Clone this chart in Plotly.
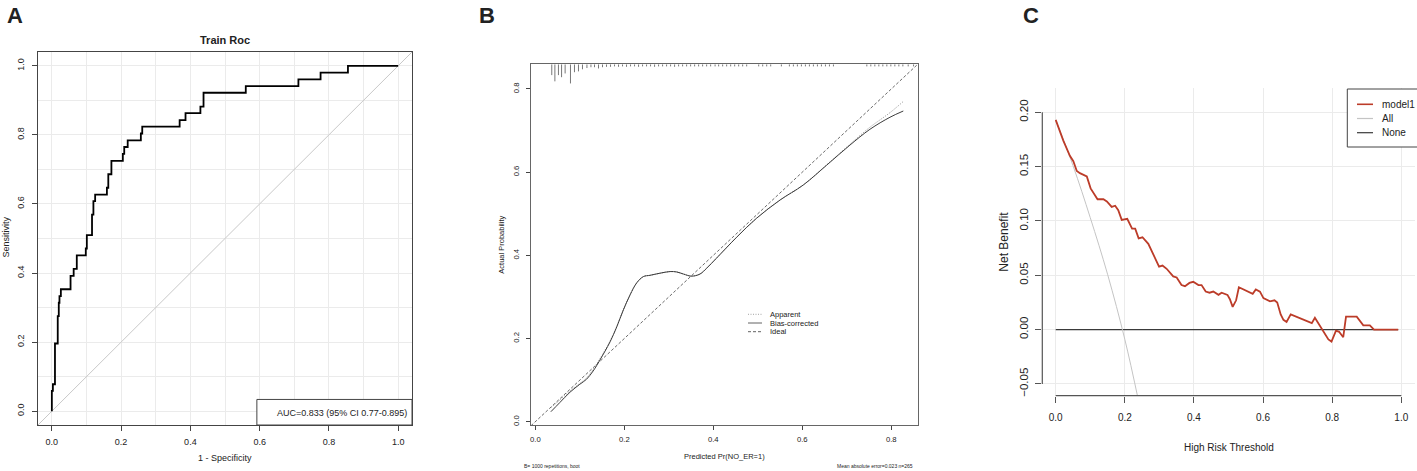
import plotly.graph_objects as go

W, H = 1417, 471
HELV = "Liberation Sans, Arial, Helvetica, sans-serif"
INK = "#222222"
AXC = "#444444"

# ---------------- A: training ROC ----------------
roc_fpr = [0.000, 0.000, 0.003, 0.009, 0.017, 0.020, 0.022, 0.026, 0.054, 0.063,
           0.072, 0.098, 0.101, 0.116, 0.120, 0.125, 0.159, 0.163, 0.172, 0.205,
           0.209, 0.219, 0.257, 0.261, 0.369, 0.386, 0.429, 0.438, 0.560, 0.712,
           0.776, 0.855, 1.000]
roc_tpr = [0.000, 0.059, 0.078, 0.196, 0.275, 0.314, 0.333, 0.353, 0.392, 0.412,
           0.451, 0.471, 0.510, 0.569, 0.608, 0.627, 0.647, 0.686, 0.725, 0.745,
           0.765, 0.784, 0.804, 0.824, 0.843, 0.863, 0.882, 0.922, 0.941, 0.961,
           0.980, 1.000, 1.000]
roc_ticks = [0.0, 0.2, 0.4, 0.6, 0.8, 1.0]
roc_range = [-0.04, 1.04]
auc_label = "AUC=0.833 (95% CI 0.77-0.895)"

# ---------------- B: calibration curve ----------------
cal_pred = [0.035, 0.055, 0.078, 0.100, 0.115, 0.130, 0.145, 0.168, 0.183, 0.198,
            0.213, 0.228, 0.243, 0.258, 0.280, 0.303, 0.318, 0.333, 0.351, 0.370,
            0.385, 0.407, 0.452, 0.497, 0.550, 0.602, 0.655, 0.707, 0.752, 0.797,
            0.827]
cal_apparent = [0.034, 0.052, 0.074, 0.092, 0.105, 0.126, 0.151, 0.194, 0.229, 0.270,
                0.305, 0.334, 0.349, 0.352, 0.357, 0.361, 0.360, 0.355, 0.350, 0.355,
                0.369, 0.393, 0.443, 0.489, 0.533, 0.569, 0.618, 0.667, 0.708, 0.743,
                0.770]
cal_bias = [0.024, 0.046, 0.071, 0.090, 0.102, 0.122, 0.148, 0.192, 0.228, 0.269,
            0.305, 0.334, 0.349, 0.352, 0.357, 0.361, 0.360, 0.355, 0.350, 0.355,
            0.369, 0.393, 0.443, 0.489, 0.533, 0.569, 0.617, 0.665, 0.703, 0.732,
            0.747]
rug_x = [0.037, 0.044, 0.052, 0.059, 0.067, 0.079, 0.088, 0.097, 0.106, 0.116,
         0.125, 0.133, 0.142, 0.151, 0.160, 0.169, 0.178, 0.187, 0.196, 0.205,
         0.214, 0.223, 0.232, 0.241, 0.250, 0.259, 0.268, 0.277, 0.286, 0.295,
         0.304, 0.313, 0.322, 0.331, 0.340, 0.349, 0.358, 0.367, 0.376, 0.385,
         0.394, 0.404, 0.412, 0.421, 0.430, 0.439, 0.448, 0.457, 0.466, 0.475,
         0.502, 0.511, 0.520, 0.529, 0.553, 0.571, 0.580, 0.589, 0.598, 0.607,
         0.616, 0.625, 0.634, 0.643, 0.652, 0.661, 0.670, 0.745, 0.754, 0.763,
         0.772, 0.781, 0.790, 0.799, 0.808, 0.817, 0.826, 0.838, 0.850]
rug_len = [0.026, 0.041, 0.026, 0.031, 0.022, 0.046, 0.019, 0.017, 0.012, 0.009,
           0.007, 0.007, 0.010, 0.007, 0.006, 0.006, 0.005, 0.006, 0.005, 0.006,
           0.005, 0.005, 0.006, 0.005, 0.005, 0.005, 0.006, 0.005, 0.005, 0.005,
           0.005, 0.006, 0.005, 0.005, 0.005, 0.005, 0.005, 0.005, 0.005, 0.005,
           0.005, 0.005, 0.005, 0.005, 0.005, 0.005, 0.005, 0.005, 0.005, 0.005,
           0.005, 0.005, 0.005, 0.005, 0.005, 0.005, 0.005, 0.005, 0.005, 0.005,
           0.005, 0.005, 0.005, 0.005, 0.005, 0.005, 0.005, 0.005, 0.005, 0.005,
           0.005, 0.005, 0.005, 0.005, 0.005, 0.005, 0.005, 0.005, 0.005]
cal_ticks = [0.0, 0.2, 0.4, 0.6, 0.8]
cal_xrange = [-0.0097, 0.8607]
cal_yrange = [-0.0079, 0.8593]
cal_legend = ["Apparent", "Bias-corrected", "Ideal"]
cal_note_left = "B= 1000 repetitions, boot"
cal_note_right = "Mean absolute error=0.023 n=265"

# ---------------- C: decision curve ----------------
dca_thr = [0.000, 0.022, 0.041, 0.051, 0.061, 0.070, 0.090, 0.101, 0.121, 0.138,
           0.148, 0.162, 0.172, 0.181, 0.191, 0.207, 0.221, 0.230, 0.240, 0.251,
           0.268, 0.287, 0.299, 0.309, 0.321, 0.340, 0.350, 0.364, 0.374, 0.387,
           0.398, 0.413, 0.422, 0.434, 0.445, 0.456, 0.471, 0.480, 0.497, 0.504,
           0.512, 0.522, 0.530, 0.570, 0.579, 0.591, 0.601, 0.620, 0.633, 0.641,
           0.651, 0.659, 0.668, 0.680, 0.741, 0.750, 0.765, 0.789, 0.798, 0.811,
           0.820, 0.832, 0.840, 0.871, 0.890, 0.909, 0.921, 0.991]
dca_model1 = [0.193, 0.174, 0.160, 0.155, 0.146, 0.144, 0.141, 0.130, 0.120, 0.120,
              0.118, 0.113, 0.114, 0.110, 0.101, 0.102, 0.093, 0.093, 0.084, 0.085,
              0.079, 0.067, 0.058, 0.059, 0.056, 0.049, 0.048, 0.041, 0.040, 0.043,
              0.044, 0.041, 0.041, 0.035, 0.034, 0.035, 0.032, 0.034, 0.032, 0.028,
              0.021, 0.027, 0.039, 0.033, 0.037, 0.035, 0.029, 0.026, 0.027, 0.025,
              0.014, 0.009, 0.007, 0.014, 0.006, 0.011, 0.003, -0.009, -0.011, -0.001,
              -0.002, -0.007, 0.012, 0.012, 0.004, 0.004, 0.000, 0.000]
all_thr = [0.000, 0.050, 0.100, 0.150, 0.200, 0.240]
all_nb = [0.193, 0.151, 0.103, 0.051, -0.009, -0.066]
none_thr = [0.000, 0.991]
none_nb = [0.000, 0.000]
dca_xticks = [0.0, 0.2, 0.4, 0.6, 0.8, 1.0]
dca_yticks = [-0.05, 0.00, 0.05, 0.10, 0.15, 0.20]
dca_xrange = [-0.0388, 1.0396]
dca_yrange = [-0.0608, 0.2221]
dca_names = ["model1", "All", "None"]
dca_colors = ["#BC3C29", "#C4C4C4", "#3A3A3A"]


def px(x):
    return x / W


def py(y):
    return 1 - y / H


def label(x, y, text, size, angle=0, xanchor="center", bold=False):
    return dict(x=px(x), y=py(y), xref="paper", yref="paper", text=f"<b>{text}</b>" if bold else text,
                showarrow=False, xanchor=xanchor, yanchor="middle", textangle=angle, borderpad=0,
                font=dict(family=HELV, size=size, color=INK))


fig = go.Figure()

# A
fig.add_trace(go.Scatter(x=roc_range, y=roc_range, mode="lines",
                         line=dict(color="#c8c8c8", width=1), xaxis="x", yaxis="y"))
fig.add_trace(go.Scatter(x=roc_fpr, y=roc_tpr, mode="lines", line_shape="hv",
                         line=dict(color="black", width=1.8), xaxis="x", yaxis="y"))

# B
rx, ry = [], []
for xv, ln in zip(rug_x, rug_len):
    rx += [xv, xv, None]
    ry += [cal_yrange[1], cal_yrange[1] - ln, None]
fig.add_trace(go.Scatter(x=rx, y=ry, mode="lines", line=dict(color="#555555", width=0.8),
                         xaxis="x2", yaxis="y2"))
fig.add_trace(go.Scatter(x=cal_xrange, y=cal_xrange, mode="lines",
                         line=dict(color="#444444", width=0.8, dash="3px,2px"), xaxis="x2", yaxis="y2"))
fig.add_trace(go.Scatter(x=cal_pred, y=cal_apparent, mode="lines", line_shape="spline",
                         line=dict(color="#8a8a8a", width=1, dash="1px,1.5px"), xaxis="x2", yaxis="y2"))
fig.add_trace(go.Scatter(x=cal_pred, y=cal_bias, mode="lines", line_shape="spline",
                         line=dict(color="#3a3a3a", width=1), xaxis="x2", yaxis="y2"))

# C
fig.add_trace(go.Scatter(x=none_thr, y=none_nb, mode="lines",
                         line=dict(color=dca_colors[2], width=1.2), xaxis="x3", yaxis="y3"))
fig.add_trace(go.Scatter(x=all_thr, y=all_nb, mode="lines", line_shape="spline",
                         line=dict(color=dca_colors[1], width=1), xaxis="x3", yaxis="y3"))
fig.add_trace(go.Scatter(x=dca_thr, y=dca_model1, mode="lines",
                         line=dict(color=dca_colors[0], width=1.8), xaxis="x3", yaxis="y3"))

grid = "#ebebeb"
fig.update_layout(
    width=W, height=H, margin=dict(l=0, r=0, t=0, b=0),
    paper_bgcolor="white", plot_bgcolor="white", showlegend=False,
    xaxis=dict(domain=[px(38), px(412)], range=roc_range, anchor="y",
               tickvals=roc_ticks, tickformat=".1f", ticks="outside", ticklen=5, tickcolor=AXC,
               showline=True, mirror=True, linecolor=AXC, linewidth=1, zeroline=False,
               showgrid=True, gridcolor=grid, gridwidth=0.8,
               minor=dict(dtick=0.1, tick0=0, showgrid=True, gridcolor=grid, gridwidth=0.8),
               tickfont=dict(family=HELV, size=9, color=INK), ticklabelstandoff=3),
    yaxis=dict(domain=[py(425), py(52)], range=roc_range, anchor="x",
               tickvals=roc_ticks, tickformat=".1f", ticks="outside", ticklen=5, tickcolor=AXC,
               tickangle=-90, showline=True, mirror=True, linecolor=AXC, linewidth=1, zeroline=False,
               showgrid=True, gridcolor=grid, gridwidth=0.8,
               minor=dict(dtick=0.1, tick0=0, showgrid=True, gridcolor=grid, gridwidth=0.8),
               tickfont=dict(family=HELV, size=9, color=INK), ticklabelstandoff=4),
    xaxis2=dict(domain=[px(531), px(918.3)], range=cal_xrange, anchor="y2",
                tickvals=cal_ticks, tickformat=".1f", ticks="outside", ticklen=4, tickcolor=AXC,
                showline=True, mirror=True, linecolor="#666666", linewidth=1, zeroline=False,
                showgrid=False, tickfont=dict(family=HELV, size=7.7, color=INK), ticklabelstandoff=3),
    yaxis2=dict(domain=[py(425), py(64.3)], range=cal_yrange, anchor="x2",
                tickvals=cal_ticks, tickformat=".1f", ticks="outside", ticklen=4, tickcolor=AXC,
                tickangle=-90, showline=True, mirror=True, linecolor="#666666", linewidth=1,
                zeroline=False, showgrid=False,
                tickfont=dict(family=HELV, size=7.7, color=INK), ticklabelstandoff=4),
    xaxis3=dict(domain=[px(1042.3), px(1415)], range=dca_xrange, anchor="y3",
                tickvals=dca_xticks, tickformat=".1f", ticks="outside", ticklen=6, tickcolor="#555555",
                showline=False, zeroline=False, showgrid=True, gridcolor=grid, gridwidth=0.8,
                tickfont=dict(family=HELV, size=10, color=INK), ticklabelstandoff=6),
    yaxis3=dict(domain=[py(395.7), py(88.3)], range=dca_yrange, anchor="x3",
                tickvals=dca_yticks, tickformat=".2f", ticks="outside", ticklen=6, tickcolor="#555555",
                tickangle=-90, showline=False, zeroline=False, showgrid=True, gridcolor=grid,
                gridwidth=0.8, tickfont=dict(family=HELV, size=11.5, color=INK), ticklabelstandoff=3),
)

shapes = [
    # AUC legend box, bottom-right of panel A
    dict(type="rect", xref="x", yref="y", x0=0.592, x1=roc_range[1], y0=roc_range[0], y1=0.034,
         line=dict(color=AXC, width=1), fillcolor="white", layer="above"),
    # panel C axis lines span only the tick range (R style)
    dict(type="line", xref="x3 domain", yref="y3", x0=0, x1=0, y0=min(dca_yticks), y1=max(dca_yticks),
         line=dict(color="#555555", width=1.2)),
    dict(type="line", xref="x3", yref="y3 domain", x0=min(dca_xticks), x1=max(dca_xticks), y0=0, y1=0,
         line=dict(color="#555555", width=1.2)),
    # panel C legend box
    dict(type="rect", xref="paper", yref="paper", x0=px(1347.3), x1=px(1418), y0=py(147), y1=py(89),
         line=dict(color="#444444", width=1), fillcolor="white"),
]

# legend keys for B and C
for i, dash in enumerate(["1px,1.5px", "solid", "3px,2px"]):
    yy = py(314.3 + 8.7 * i)
    shapes.append(dict(type="line", xref="paper", yref="paper", x0=px(748), x1=px(762), y0=yy, y1=yy,
                       line=dict(color="#8a8a8a" if i == 0 else "#3a3a3a", width=0.8, dash=dash)))
for i, col in enumerate(dca_colors):
    yy = py(104.3 + 14.2 * i)
    shapes.append(dict(type="line", xref="paper", yref="paper", x0=px(1357), x1=px(1373), y0=yy, y1=yy,
                       line=dict(color=col, width=1.6 if i == 0 else 1.2)))

annotations = [
    label(15, 16, "A", 22, bold=True),
    label(486.5, 16, "B", 22, bold=True),
    label(1030.5, 16, "C", 22, bold=True),
    label(225, 40, "Train Roc", 11, bold=True),
    label(225, 458.3, "1 - Specificity", 9),
    label(6.3, 237.3, "Sensitivity", 9, angle=-90),
    label(407.5, 413.3, auc_label, 9, xanchor="right"),
    label(724, 456.5, "Predicted Pr(NO_ER=1)", 7.5),
    label(500.7, 245, "Actual Probability", 7.5, angle=-90),
    label(523.3, 465.7, cal_note_left, 5, xanchor="left"),
    label(914.3, 465.7, cal_note_right, 5, xanchor="right"),
    label(1228.7, 447, "High Risk Threshold", 10),
    label(1004, 241.7, "Net Benefit", 12, angle=-90),
]
for i, name in enumerate(cal_legend):
    annotations.append(label(769, 314.3 + 8.7 * i, name, 7.5, xanchor="left"))
for i, name in enumerate(dca_names):
    annotations.append(label(1380.5, 104.3 + 14.2 * i, name, 10, xanchor="left"))

fig.update_layout(shapes=shapes, annotations=annotations)

fig.write_html("out.html", config={"displayModeBar": False},
               post_script="document.body.style.margin='0';document.body.style.overflow='hidden';")
